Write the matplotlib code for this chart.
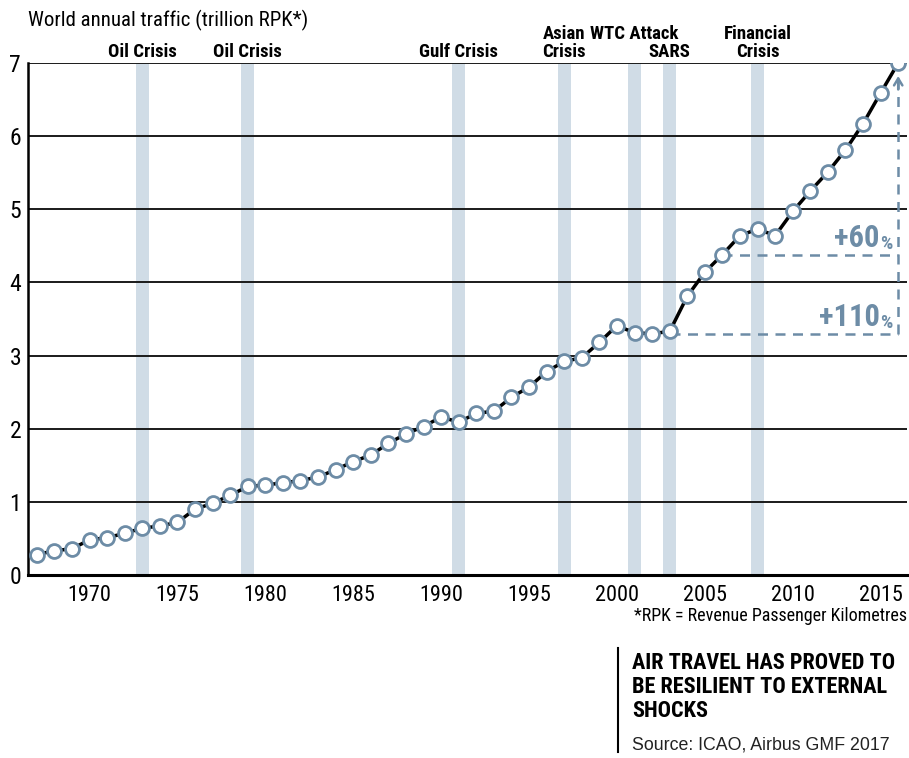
import numpy as np
import matplotlib
matplotlib.use("Agg")
import matplotlib.pyplot as plt

plt.rcParams['font.family'] = ['Roboto Condensed', 'Archivo Narrow', 'DejaVu Sans']

years = list(range(1967, 2017))
rpk = [0.28, 0.33, 0.36, 0.48, 0.51, 0.57, 0.64, 0.67, 0.72, 0.90,
       0.98, 1.09, 1.21, 1.23, 1.26, 1.29, 1.34, 1.44, 1.55, 1.64,
       1.80, 1.93, 2.03, 2.16, 2.09, 2.21, 2.24, 2.43, 2.57, 2.78,
       2.92, 2.97, 3.18, 3.41, 3.31, 3.30, 3.33, 3.81, 4.14, 4.38,
       4.64, 4.73, 4.64, 4.97, 5.25, 5.51, 5.81, 6.17, 6.59, 7.00]

crisis_years = [1973, 1979, 1991, 1997, 2001, 2003, 2008]
crisis_labels = ["Oil Crisis", "Oil Crisis", "Gulf Crisis", "Asian\nCrisis",
                 "WTC Attack", "SARS", "Financial\nCrisis"]
# labels placed on the upper row instead of the baseline row
upper_row = ["WTC Attack"]

base_2003 = 3.30
base_2006 = 4.38

line_blue = '#6d8ca6'
band_col = '#d0dce6'

fig = plt.figure(figsize=(9.09, 7.58), dpi=100)
ax = fig.add_axes([28 / 909, 183 / 758, 879 / 909, 512 / 758])

# crisis bands
for cy in crisis_years:
    ax.axvspan(cy - 0.36, cy + 0.36, color=band_col, lw=0, zorder=0)

for y in range(1, 8):
    ax.axhline(y, color='#1a1a1a', lw=1.4, zorder=1)

ax.plot(years, rpk, color='black', lw=2.5, zorder=3)
ax.plot(years, rpk, ls='none', marker='o', ms=10, mfc='white',
        mec=line_blue, mew=2.0, zorder=4)

# growth annotations
ax.hlines(base_2003, 2003, 2016, colors=line_blue, linestyles=(0, (4, 3)), lw=1.8, zorder=2)
ax.hlines(base_2006, 2006, 2016, colors=line_blue, linestyles=(0, (4, 3)), lw=1.8, zorder=2)
ax.vlines(2016, base_2003, 6.86, colors=line_blue, linestyles=(0, (4, 3)), lw=1.8, zorder=2)
ax.annotate('', xy=(2016, 6.86), xytext=(2016, 6.6),
            arrowprops=dict(arrowstyle='->,head_length=0.5,head_width=0.3',
                            color=line_blue, lw=1.8), zorder=2)

for val, txt in [(base_2006, '+60'), (base_2003, '+110')]:
    t = ax.text(2014.95, val + 0.1, txt, ha='right', va='baseline', fontsize=22,
                fontweight='bold', color=line_blue)
    ax.annotate('%', xy=(1, 0), xycoords=t, ha='left', va='bottom',
                fontsize=14, fontweight='bold', color=line_blue)

# crisis labels above the plot, drawn line by line
row_y = [7.08, 7.33]
for cy, lab in zip(crisis_years, crisis_labels):
    parts = lab.split("\n")[::-1]
    start = 1 if lab in upper_row else 0
    for i, part in enumerate(parts):
        ax.text(cy, row_y[start + i], part, ha='center', va='baseline',
                fontsize=13.5, fontweight='bold')

ax.set_xlim(1966.5, 2016.5)
ax.set_ylim(0, 7)
ax.set_xticks([1970, 1975, 1980, 1985, 1990, 1995, 2000, 2005, 2010, 2015])
ax.set_yticks(range(0, 8))
ax.tick_params(axis='both', length=0)
ax.tick_params(axis='x', pad=7, labelsize=16)
ax.tick_params(axis='y', pad=5, labelsize=17)
for s in ['top', 'right']:
    ax.spines[s].set_visible(False)
ax.spines['left'].set_linewidth(1.8)
ax.spines['bottom'].set_linewidth(2.2)

fig.text(28 / 909, 1 - 20 / 758, "World annual traffic (trillion RPK*)", ha='left',
         va='center', fontsize=15)
fig.text(907 / 909, 1 - 616 / 758, "*RPK = Revenue Passenger Kilometres", ha='right',
         va='center', fontsize=13)
fig.text(632 / 909, 1 - 687 / 758, "AIR TRAVEL HAS PROVED TO\nBE RESILIENT TO EXTERNAL\nSHOCKS",
         ha='left', va='center', fontsize=16, fontweight='bold', linespacing=1.1)
fig.text(632 / 909, 1 - 745 / 758, "Source: ICAO, Airbus GMF 2017", ha='left', va='center',
         fontsize=12.8, family=['Liberation Sans', 'DejaVu Sans'], color='#222222')
fig.add_artist(plt.Line2D([618 / 909, 618 / 909], [1 - 648 / 758, 1 - 752 / 758],
                          color='black', lw=1.5))

fig.savefig('out.png', dpi=100)
